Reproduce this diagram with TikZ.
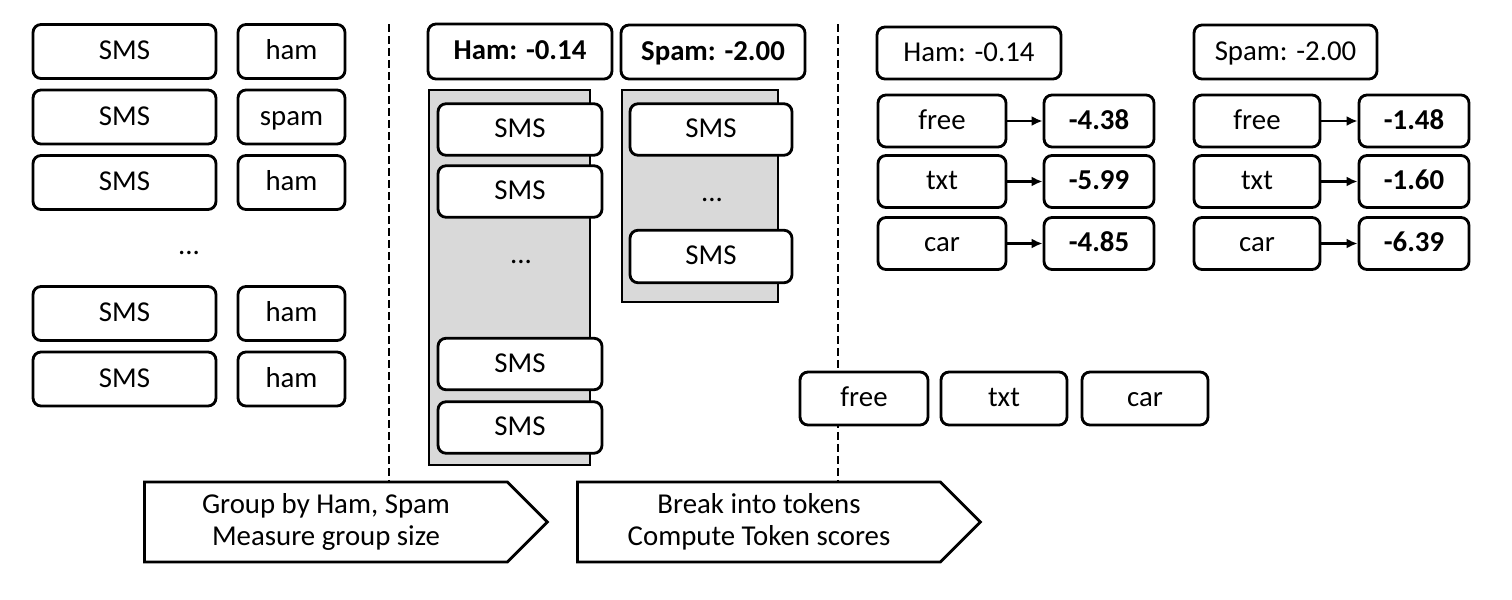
\documentclass[tikz,border=0pt]{standalone}
\usepackage{fontspec}
\setmainfont{Carlito}
\usetikzlibrary{positioning}
\usetikzlibrary{calc}
\usetikzlibrary{shapes.symbols}
\usetikzlibrary{arrows.meta}

\tikzset{
    box/.style={draw, line width=1.6pt, rounded corners=0.16cm, fill=white, inner sep=0pt, minimum height=1.06cm, text height=11pt, text depth=1.5pt},
    panel/.style={draw, line width=1.6pt, fill=black!15, inner sep=0pt},
    sep/.style={line width=1.6pt, dash pattern=on 0.16cm off 0.08cm},
    stage/.style={draw, line width=1.6pt, signal, signal to=east, signal pointer angle=90, minimum width=8.06cm, minimum height=1.6cm, align=center, inner sep=0pt},
    score/.style={-{Latex[length=0.22cm,width=0.2cm]}, line width=1.3pt}
}

\begin{document}
\begin{tikzpicture}[x=0.02cm, y=-0.02cm, font=\fontsize{16.4}{18.5}\selectfont]
    \useasboundingbox (0,0) rectangle (1512,599);
    %Stages
    \node[stage] (grp) at (326,522) {Group by Ham, Spam\\Measure group size};
    \node[stage] (tok) at (759,522) {Break into tokens\\Compute Token scores};
    %Separators
    \coordinate (top1) at (389,24);
    \coordinate (top2) at (838,24);
    \draw[sep] (top1) -- (top1 |- grp.north);
    \draw[sep] (top2) -- (top2 |- tok.north);

    %Labelled SMS
    \node[box, minimum width=3.66cm, minimum height=1.08cm] (sms1) at (124.5,51.5) {SMS};
    \node[box, minimum width=3.66cm, minimum height=1.08cm] (sms2) at (124.5,117) {SMS};
    \node[box, minimum width=3.66cm, minimum height=1.08cm] (sms3) at (124.5,182.5) {SMS};
    \node (smsdots) at (189,253) {...};
    \node[box, minimum width=3.66cm, minimum height=1.08cm] (sms4) at (124.5,313.5) {SMS};
    \node[box, minimum width=3.66cm, minimum height=1.08cm] (sms5) at (124.5,379) {SMS};
    \node[box, minimum width=2.14cm, minimum height=1.08cm] (lab1) at (291.5,51.5) {ham};
    \node[box, minimum width=2.14cm, minimum height=1.08cm] (lab2) at (291.5,117) {spam};
    \node[box, minimum width=2.14cm, minimum height=1.08cm] (lab3) at (291.5,182.5) {ham};
    \node[box, minimum width=2.14cm, minimum height=1.08cm] (lab4) at (291.5,313.5) {ham};
    \node[box, minimum width=2.14cm, minimum height=1.08cm] (lab5) at (291.5,379) {ham};

    %Groups
    \node[box, minimum width=3.68cm, minimum height=1.1cm, font=\fontsize{16.4}{18.5}\selectfont\bfseries] (hamhead) at (520,51.5) {Ham: -0.14};
    \node[box, minimum width=3.68cm, minimum height=1.08cm, font=\fontsize{16.4}{18.5}\selectfont\bfseries] (spamhead) at (713,52) {Spam: -2.00};
    \node[panel, minimum width=3.22cm, minimum height=7.5cm] (hamgrp) at (509.5,277.5) {};
    \node[panel, minimum width=3.12cm, minimum height=4.24cm] (spamgrp) at (700,196) {};
    %Ham group
    \node[box, minimum width=3.28cm, minimum height=1.03cm] (hsms1) at (520,129.5) {SMS};
    \node[box, minimum width=3.28cm, minimum height=1.03cm] (hsms2) at (520,191.5) {SMS};
    \node (hdots) at (521,262) {...};
    \node[box, minimum width=3.28cm, minimum height=1.03cm] (hsms3) at (520,364) {SMS};
    \node[box, minimum width=3.28cm, minimum height=1.03cm] (hsms4) at (520,427.5) {SMS};
    %Spam group
    \node[box, minimum width=3.24cm, minimum height=1.03cm] (ssms1) at (711,129.5) {SMS};
    \node (sdots) at (712,200) {...};
    \node[box, minimum width=3.24cm, minimum height=1.05cm] (ssms2) at (711,256.5) {SMS};

    %Tokens
    \node[box, minimum width=2.56cm] (free) at (864,398.5) {free};
    \node[box, minimum width=2.52cm] (txt) at (1004,398.5) {txt};
    \node[box, minimum width=2.52cm] (car) at (1145,398.5) {car};

    %Ham scores
    \node[box, minimum width=3.68cm, minimum height=1.04cm] (hamprior) at (969,53) {Ham: -0.14};
    \node[box, minimum width=2.56cm, minimum height=1.04cm] (hfree) at (942,121) {free};
    \node[box, minimum width=2.56cm, minimum height=1.04cm] (htxt) at (942,181.5) {txt};
    \node[box, minimum width=2.56cm, minimum height=1.04cm] (hcar) at (942,243.5) {car};
    \node[box, minimum width=2.2cm, minimum height=1.04cm, font=\fontsize{16.4}{18.5}\selectfont\bfseries] (hfreev) at (1099,121) {-4.38};
    \node[box, minimum width=2.2cm, minimum height=1.04cm, font=\fontsize{16.4}{18.5}\selectfont\bfseries] (htxtv) at (1099,181.5) {-5.99};
    \node[box, minimum width=2.2cm, minimum height=1.04cm, font=\fontsize{16.4}{18.5}\selectfont\bfseries] (hcarv) at (1099,243.5) {-4.85};
    \draw[score] (hfree) -- (hfreev);
    \draw[score] (htxt) -- (htxtv);
    \draw[score] (hcar) -- (hcarv);

    %Spam scores
    \node[box, minimum width=3.66cm, minimum height=1.08cm] (spamprior) at (1285.5,52) {Spam: -2.00};
    \node[box, minimum width=2.52cm, minimum height=1.04cm] (sfree) at (1257,121) {free};
    \node[box, minimum width=2.52cm, minimum height=1.04cm] (stxt) at (1257,181.5) {txt};
    \node[box, minimum width=2.52cm, minimum height=1.04cm] (scar) at (1257,243.5) {car};
    \node[box, minimum width=2.2cm, minimum height=1.04cm, font=\fontsize{16.4}{18.5}\selectfont\bfseries] (sfreev) at (1414,121) {-1.48};
    \node[box, minimum width=2.2cm, minimum height=1.04cm, font=\fontsize{16.4}{18.5}\selectfont\bfseries] (stxtv) at (1414,181.5) {-1.60};
    \node[box, minimum width=2.2cm, minimum height=1.04cm, font=\fontsize{16.4}{18.5}\selectfont\bfseries] (scarv) at (1414,243.5) {-6.39};
    \draw[score] (sfree) -- (sfreev);
    \draw[score] (stxt) -- (stxtv);
    \draw[score] (scar) -- (scarv);
\end{tikzpicture}
\end{document}
